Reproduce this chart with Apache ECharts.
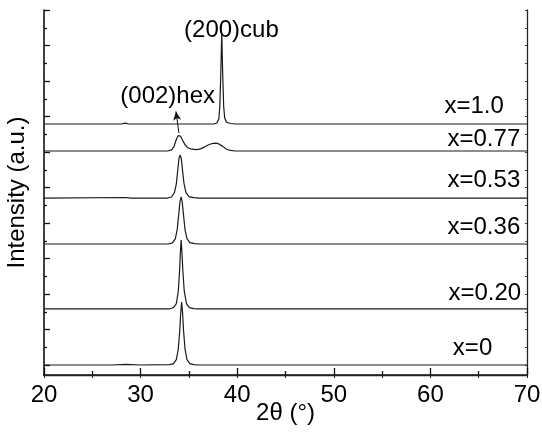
<!DOCTYPE html>
<html><head><meta charset="utf-8">
<script src="https://cdn.jsdelivr.net/npm/echarts@6/dist/echarts.min.js"></script>
<style>html,body{margin:0;padding:0;background:#fff}#c{width:542px;height:437px}</style>
</head><body><div id="c"></div>
<script>
// Sample labels (composition x) and baseline offsets (in y-tick units)
const sampleNames = ['x=0', 'x=0.20', 'x=0.36', 'x=0.53', 'x=0.77', 'x=1.0'];
const offsets = [0.563, 3.72, 7.38, 9.97, 12.62, 14.14];

// XRD patterns: [2theta, intensity above baseline]
const xrd_0 = [[20,0],[27,0],[28.5,0.03],[30,0],[33,0.02],[33.4,0.08],[33.7,0.3],[33.9,0.9],[34.05,1.9],[34.15,2.9],[34.25,3.55],[34.35,2.9],[34.45,1.9],[34.6,0.9],[34.8,0.3],[35.1,0.08],[35.5,0.02],[36,0],[70,0]];
const xrd_020 = [[20,0],[33,0],[33.4,0.08],[33.7,0.3],[33.9,1.0],[34.03,2.1],[34.12,3.2],[34.2,3.89],[34.28,3.2],[34.38,2.1],[34.52,1.0],[34.75,0.3],[35.05,0.08],[35.5,0.02],[36,0],[70,0]];
const xrd_036 = [[20,0],[32.9,0],[33.3,0.06],[33.6,0.3],[33.8,0.85],[33.95,1.7],[34.08,2.4],[34.2,2.65],[34.32,2.3],[34.45,1.6],[34.6,0.8],[34.8,0.3],[35.1,0.08],[35.6,0.02],[36.2,0],[70,0]];
const xrd_053 = [[20,0],[28.5,0.03],[29,0],[32.8,0],[33.2,0.06],[33.5,0.3],[33.7,0.8],[33.85,1.6],[33.98,2.25],[34.1,2.42],[34.22,2.2],[34.35,1.5],[34.5,0.8],[34.7,0.3],[35.0,0.08],[35.5,0.02],[36,0],[70,0]];
const xrd_077 = [[20,0],[32.8,0],[33.2,0.06],[33.45,0.25],[33.7,0.65],[33.9,0.87],[34.0,0.9],[34.15,0.82],[34.35,0.6],[34.6,0.35],[34.9,0.18],[35.3,0.1],[35.8,0.08],[36.2,0.12],[36.6,0.22],[37.0,0.34],[37.4,0.42],[37.8,0.44],[38.1,0.4],[38.5,0.26],[38.9,0.1],[39.3,0.03],[39.8,0],[70,0]];
const xrd_100 = [[20,0],[28.0,0],[28.4,0.05],[28.8,0],[37.6,0],[37.9,0.06],[38.1,0.3],[38.2,1.0],[38.3,2.8],[38.4,5.15],[38.5,2.8],[38.6,1.0],[38.7,0.35],[38.9,0.1],[39.3,0.03],[39.8,0],[70,0]];
const patterns = [xrd_0, xrd_020, xrd_036, xrd_053, xrd_077, xrd_100];

// axis
const yMax = 20.563;
const majorY = [], minorY = [], allY = [];
for (let k = 0; k <= 10; k++) majorY.push(+(0.563 + 2 * k).toFixed(3));
for (let k = 0; k < 10; k++) minorY.push(+(1.563 + 2 * k).toFixed(3));
for (let k = 0; k <= 20; k++) allY.push(+(0.563 + k).toFixed(3));

const FONT = '"Liberation Sans", Arial, sans-serif';
const ink = '#000';

const series = patterns.map((p, i) => ({
  type: 'line',
  xAxisIndex: 0, yAxisIndex: 0,
  data: p.map(d => [d[0], d[1] + offsets[i]]),
  showSymbol: false, symbol: 'none',
  lineStyle: { color: '#1a1a1a', width: 1.2 },
  z: 3
}));
// arrow pointing to (002)hex
series[4].markLine = {
  silent: true, symbol: ['none', 'arrow'], symbolSize: [6, 9],
  lineStyle: { color: '#111', width: 1, type: 'solid' },
  label: { show: false },
  data: [[{ coord: [33.97, 13.63] }, { coord: [33.66, 14.85] }]]
};

// sample labels anchored in data coordinates
const labelPos = [[66.4, 1.52], [69.4, 4.62], [69.3, 8.34], [69.3, 10.99], [69.3, 13.30], [67.6, 15.15]];
series.push({
  type: 'scatter', symbolSize: 0, xAxisIndex: 0, yAxisIndex: 0, silent: true,
  data: sampleNames.map((n, i) => ({ value: labelPos[i], name: n })),
  label: { show: true, position: 'left', distance: 0, formatter: p => p.name,
           fontFamily: FONT, fontSize: 24, color: ink, opacity: 1 }
});
series.push({
  type: 'scatter', symbolSize: 0, xAxisIndex: 0, yAxisIndex: 0, silent: true,
  data: [{ value: [32.8, 15.7], name: '(002)hex' }, { value: [39.4, 19.4], name: '(200)cub' }],
  label: { show: true, position: 'inside', formatter: p => p.name,
           fontFamily: FONT, fontSize: 24, color: ink, opacity: 1 }
});

const chart = echarts.init(document.getElementById('c'), null, { renderer: 'canvas' });
chart.setOption({
  animation: false,
  backgroundColor: '#fff',
  grid: { left: 44, right: 15, top: 10, bottom: 62, containLabel: false, outerBoundsMode: 'none' },
  xAxis: [{
    type: 'value', position: 'bottom', min: 20, max: 70, interval: 10,
    name: '2θ (°)', nameLocation: 'middle', nameGap: 26, nameMoveOverlap: false,
    nameTextStyle: { fontFamily: FONT, fontSize: 24, color: ink },
    axisLine: { show: true, lineStyle: { color: '#111', width: 1.6 } },
    axisTick: { show: true, inside: true, length: 7, lineStyle: { color: '#111', width: 1.3 } },
    minorTick: { show: true, splitNumber: 2, length: 4, lineStyle: { color: '#111', width: 1.3 } },
    axisLabel: { fontFamily: FONT, fontSize: 24, color: ink, margin: 8 },
    splitLine: { show: false }
  }, {
    type: 'value', position: 'top', min: 20, max: 70, interval: 5,
    axisLine: { show: true, lineStyle: { color: '#222', width: 1.3 } },
    axisTick: { show: true, inside: true, length: 3, lineStyle: { color: '#222', width: 1 } },
    axisLabel: { show: false }, splitLine: { show: false }
  }],
  yAxis: [{
    type: 'value', position: 'left', min: 0, max: yMax,
    name: 'Intensity (a.u.)', nameLocation: 'middle', nameGap: 15, nameMoveOverlap: false,
    nameTextStyle: { fontFamily: FONT, fontSize: 24, color: ink },
    axisLine: { show: true, lineStyle: { color: '#111', width: 1.6 } },
    axisTick: { show: true, inside: true, length: 6, customValues: majorY, lineStyle: { color: '#111', width: 1.3 } },
    axisLabel: { show: false }, splitLine: { show: false }
  }, {
    type: 'value', position: 'left', offset: 0, min: 0, max: yMax,
    axisLine: { show: false },
    axisTick: { show: true, inside: true, length: 3, customValues: minorY, lineStyle: { color: '#111', width: 1.3 } },
    axisLabel: { show: false }, splitLine: { show: false }
  }, {
    type: 'value', position: 'right', min: 0, max: yMax,
    axisLine: { show: true, lineStyle: { color: '#222', width: 1.3 } },
    axisTick: { show: true, inside: true, length: 2, customValues: allY, lineStyle: { color: '#444', width: 1 } },
    axisLabel: { show: false }, splitLine: { show: false }
  }],
  series: series
});
</script></body></html>
